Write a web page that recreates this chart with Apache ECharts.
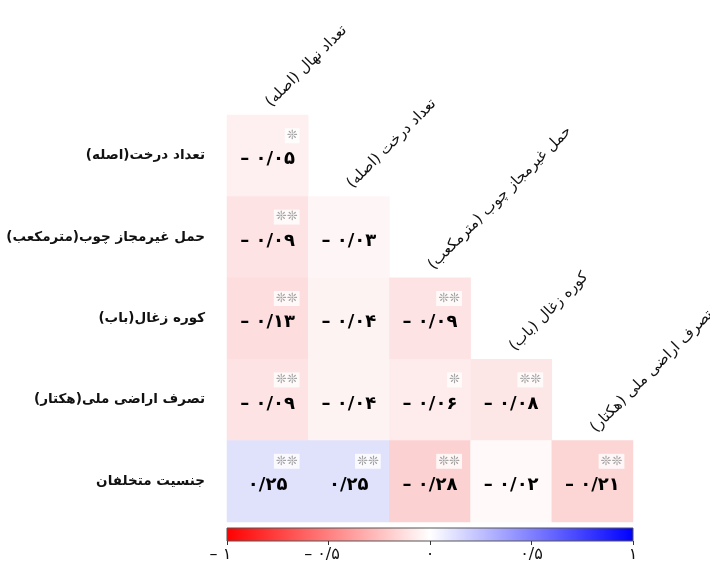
<!DOCTYPE html>
<html>
<head>
<meta charset="utf-8">
<script src="https://cdn.jsdelivr.net/npm/echarts@6/dist/echarts.min.js"></script>
<style>
  html, body { margin: 0; padding: 0; background: #fff; }
  #chart { width: 710px; height: 565px; }
</style>
</head>
<body>
<div id="chart"></div>
<script>
// Row (y) and column (x) variables of the lower-triangular correlation matrix
const rowNames = ['تعداد درخت(اصله)', 'حمل غیرمجاز چوب(مترمکعب)', 'کوره زغال(باب)', 'تصرف اراضی ملی(هکتار)', 'جنسیت متخلفان'];
const colNames = ['تعداد نهال (اصله)', 'تعداد درخت (اصله)', 'حمل غیرمجاز چوب (مترمکعب)', 'کوره زغال (باب)', 'تصرف اراضی ملی (هکتار)'];

// Correlation coefficients, one array per row (lower triangle)
const corrRows = [
  [-0.05],
  [-0.09, -0.03],
  [-0.13, -0.04, -0.09],
  [-0.09, -0.04, -0.06, -0.08],
  [0.25, 0.25, -0.28, -0.02, -0.21]
];
// Significance marks per cell
const starRows = [
  ['*'],
  ['**', ''],
  ['**', '', '**'],
  ['**', '', '*', '**'],
  ['**', '**', '**', '', '**']
];
// Colour scale ticks
const scaleTicks = [-1, -0.5, 0, 0.5, 1];

const FONT = 'DejaVu Sans';
const faDigits = ['۰','۱','۲','۳','۴','۵','۶','۷','۸','۹'];
function faBody(v, decimals) {
  const a = Math.abs(v);
  return (decimals === 2 ? a.toFixed(2) : String(a))
    .replace(/\d/g, d => faDigits[+d]).replace('.', '/');
}
function toFa(v, decimals) {
  return (v < 0 ? '– ' : '') + faBody(v, decimals);
}

// Cell fill ramp: light tints near zero, saturating toward ±1
const cellRamp = [
  '#ff0000', '#ff2121', '#ff4242', '#ff6464', '#ff8585', '#ffa0a0',
  '#ffbcbc', '#fcd0d0', '#fcd5d5', '#fde0e0', '#ffffff',
  '#ecedfc', '#e3e4fb', '#dcddfb', '#c8c8fd', '#a8a8ff',
  '#8888ff', '#6464ff', '#4242ff', '#2121ff', '#0000ff'
];

const heatData = [];
const starData = [];
corrRows.forEach((row, r) => {
  row.forEach((v, c) => {
    heatData.push([c, r, v]);
    if (starRows[r][c]) starData.push([c, r, starRows[r][c]]);
  });
});

const chart = echarts.init(document.getElementById('chart'), null, { renderer: 'canvas' });

const option = {
  backgroundColor: '#ffffff',
  animation: false,
  textStyle: { fontFamily: FONT },
  grid: [
    { left: 227, right: 77, top: 115, bottom: 43, containLabel: false, outerBoundsMode: 'none' },
    {
      left: 227, right: 77, top: 528, height: 13, show: true,
      containLabel: false, outerBoundsMode: 'none',
      borderColor: '#555', borderWidth: 1,
      backgroundColor: new echarts.graphic.LinearGradient(0, 0, 1, 0, [
        { offset: 0, color: '#ff0000' },
        { offset: 0.5, color: '#ffffff' },
        { offset: 1, color: '#0000ff' }
      ])
    }
  ],
  xAxis: [
    {
      type: 'category', data: colNames, gridIndex: 0,
      axisLine: { show: false }, axisTick: { show: false }, axisLabel: { show: false },
      splitLine: { show: false }
    },
    {
      type: 'value', gridIndex: 1, min: -1, max: 1, interval: 0.5, position: 'bottom',
      axisLine: { show: false },
      axisTick: { show: true, length: 4, lineStyle: { color: '#333' } },
      splitLine: { show: false },
      axisLabel: {
        margin: 6, fontSize: 16, color: '#111', fontFamily: FONT,
        // the minus hangs to the left so the number itself sits on the tick
        formatter: v => v < 0 ? '– ' + faBody(v, 1) + '{pad|– }' : faBody(v, 1),
        rich: { pad: { fontSize: 16, fontFamily: FONT, color: 'rgba(0,0,0,0)' } }
      }
    }
  ],
  yAxis: [
    {
      type: 'category', data: rowNames, inverse: true, gridIndex: 0,
      axisLine: { show: false }, axisTick: { show: false }, splitLine: { show: false },
      axisLabel: { margin: 22, fontSize: 13.5, fontWeight: 'bold', color: '#111', fontFamily: FONT }
    },
    {
      type: 'value', gridIndex: 1, show: false, min: 0, max: 1
    }
  ],
  visualMap: {
    show: false, type: 'continuous', min: -1, max: 1, seriesIndex: 0,
    inRange: { color: cellRamp }
  },
  series: [
    {
      type: 'heatmap', xAxisIndex: 0, yAxisIndex: 0, data: heatData,
      emphasis: { disabled: true },
      label: {
        show: true, fontSize: 18, fontWeight: 'bold', color: '#000', fontFamily: FONT, offset: [0, 4],
        formatter: p => toFa(p.value[2], 2)
      }
    },
    {
      type: 'scatter', xAxisIndex: 0, yAxisIndex: 0, data: starData,
      symbolSize: 0, silent: true,
      label: {
        show: true, position: 'inside', align: 'right', offset: [32, -20],
        fontSize: 13, color: '#8a8a8a', backgroundColor: '#ffffff', padding: [1, 2],
        formatter: p => p.value[2].replace(/\*/g, '❊')
      }
    }
  ]
};
chart.setOption(option);

// Rotated column headers, anchored just above the top cell of each column
const headerGraphics = colNames.map((name, c) => {
  const p = chart.convertToPixel({ gridIndex: 0 }, [c, c]);
  return {
    type: 'text',
    x: p[0] + 6,
    y: p[1] - 46,
    rotation: Math.PI / 4,
    style: {
      text: name, fontSize: 15, fontFamily: FONT, fill: '#111',
      textAlign: 'left', textVerticalAlign: 'bottom'
    }
  };
});
chart.setOption({ graphic: headerGraphics });
</script>
</body>
</html>
